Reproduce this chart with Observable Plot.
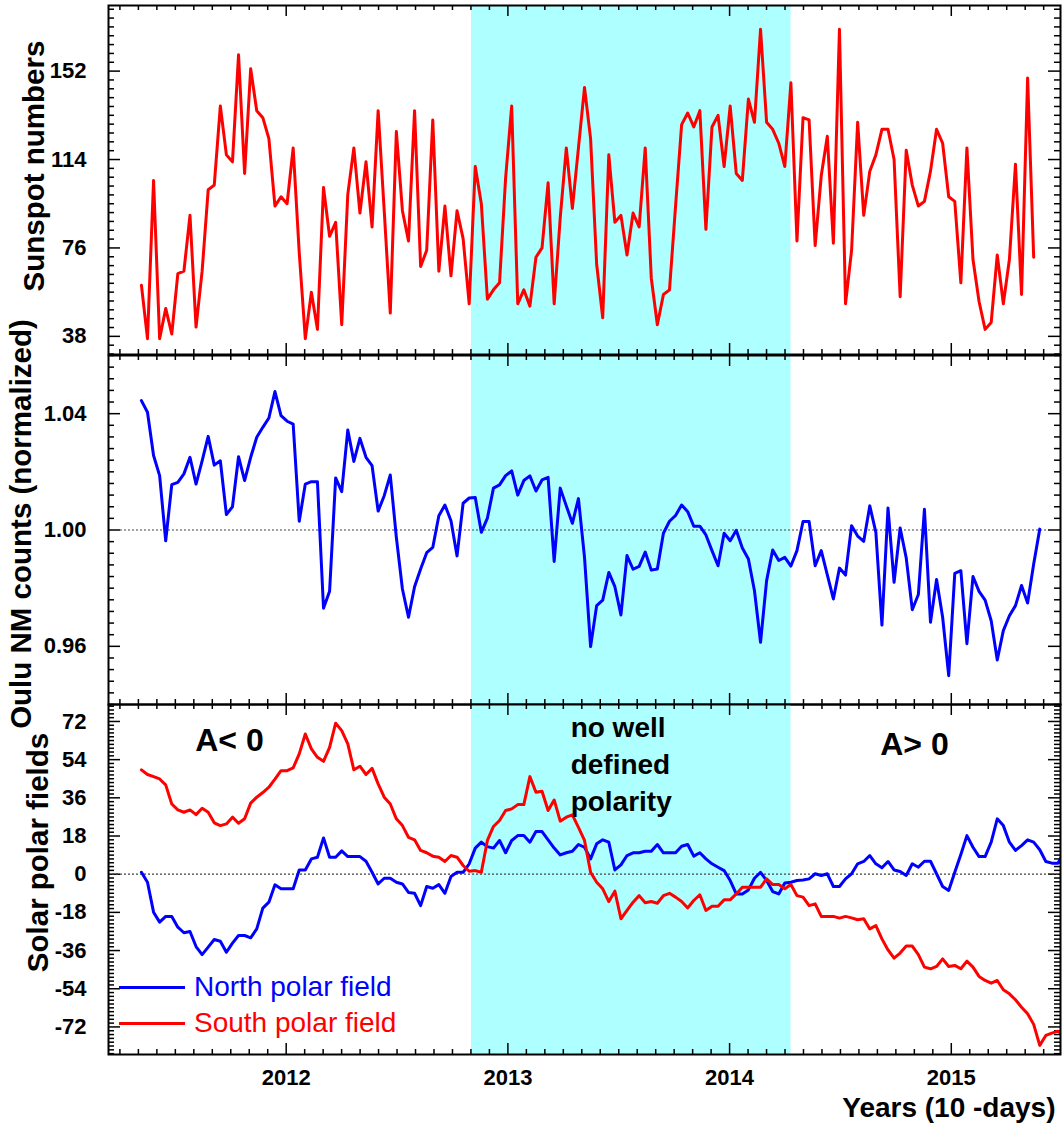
<!DOCTYPE html>
<html><head><meta charset="utf-8">
<script src="https://cdn.jsdelivr.net/npm/d3@7"></script>
<script src="https://cdn.jsdelivr.net/npm/@observablehq/plot@0.6"></script>
<style>
body{margin:0;background:#fff;font-family:"Liberation Sans",Arial,sans-serif;}
#wrap{position:relative;width:1063px;height:1129px;overflow:hidden;background:#fff;}
#wrap svg{position:absolute;left:0;overflow:visible;}
.leg{position:absolute;left:119px;height:32px;display:flex;align-items:center;font-size:28px;white-space:nowrap;}
.leg .sw{display:inline-block;width:66px;height:0;border-top:3px solid currentColor;margin-right:9px;}
</style></head><body><div id="wrap"></div>
<script>
// ---- data (10-day samples) ----
const startYear = 2011.347;           // first sample (decimal year)
const stepYears = 10 / 365.25;        // 10-day cadence

const sunspot = [60,37,105,37,50,39,65,66,90,42,66,101,103,137,116,113,159,108,153,135,132,123,94,98,95,119,74,37,57,41,102,81,87,43,99,119,91,113,85,135,92,48,126,92,79,135,68,75,131,66,94,64,92,80,52,111,
95,54,58,61,106,137,52,58,51,72,76,104,52,89,119,93,119,145,123,69,46,116,87,90,73,91,85,119,63,43,56,58,94,129,134,128,135,84,128,133,111,137,108,105,140,130,170,130,127,121,111,147,79,
132,131,77,107,124,78,170,52,75,130,90,109,116,127,127,114,55,118,103,94,96,109,127,121,98,96,61,119,71,53,41,44,73,52,71,112,56,149,72];

const oulu = [1.0445,1.0405,1.0256,1.0187,0.9963,1.0156,1.0164,1.0193,1.0250,1.0158,1.0238,1.0322,1.0223,1.0238,1.0053,1.0080,1.0252,1.0170,1.0250,1.0319,1.0353,1.0385,1.0476,1.0393,1.0374,1.0364,1.0030,1.0158,1.0166,1.0166,0.9731,0.9789,1.0179,1.0132,1.0344,1.0236,1.0315,1.0250,1.0221,1.0065,1.0118,1.0189,0.9975,0.9797,0.9700,0.9805,0.9866,0.9922,0.9940,1.0049,1.0086,1.0032,0.9911,1.0092,1.0110,1.0112,
0.9992,1.0041,1.0144,1.0155,1.0187,1.0203,1.0120,1.0170,1.0186,1.0134,1.0172,1.0181,0.9892,1.0144,1.0083,1.0023,1.0108,0.9906,0.9599,0.9740,0.9759,0.9854,0.9805,0.9708,0.9912,0.9865,0.9875,0.9924,0.9862,0.9866,0.9989,1.0030,1.0050,1.0086,1.0063,1.0013,1.0013,0.9983,0.9929,0.9877,0.9989,0.9963,0.9999,0.9938,0.9900,0.9791,0.9614,0.9826,0.9931,0.9895,0.9906,0.9876,0.9929,
1.0029,1.0029,0.9877,0.9929,0.9846,0.9763,0.9869,0.9845,1.0015,0.9979,0.9961,1.0083,0.9992,0.9673,1.0076,0.9820,1.0007,0.9904,0.9726,0.9778,1.0071,0.9683,0.9830,0.9700,0.9499,0.9851,0.9860,0.9609,0.9840,0.9789,0.9759,0.9688,0.9553,0.9654,0.9705,0.9740,0.9809,0.9749,0.9883,1.0003];

const northField = [0.9,-3.8,-17.9,-22.6,-19.9,-19.9,-25.0,-27.6,-27.0,-34.1,-37.9,-34.4,-30.8,-31.6,-36.8,-32.5,-28.9,-28.9,-30.0,-25.8,-16.0,-13.2,-5.0,-6.9,-6.9,-6.9,2.0,2.0,7.2,8.0,17.1,8.0,8.0,11.0,8.3,8.3,8.3,6.1,0.9,-4.6,-1.9,-1.9,-3.8,-4.6,-8.6,-9.0,-14.8,-5.8,-6.6,-4.9,-9.0,-1.1,0.9,0.9,4.9,12.3,
15.1,13.0,12.3,15.9,10.1,15.9,18.2,18.2,15.1,20.1,20.1,16.2,12.3,9.1,10.1,10.8,14.0,12.7,7.2,14.3,16.2,15.1,2.0,4.4,8.8,10.1,10.1,10.8,10.8,14.0,10.1,10.1,10.1,13.2,14.0,8.5,10.1,7.2,4.9,3.3,1.7,-3.0,-9.3,-9.3,-7.4,-1.9,0.9,-3.0,-8.2,-9.3,-4.2,-3.8,-3.0,
-2.7,-2.2,0.2,-0.6,0.2,-5.8,-5.8,-2.2,0.2,4.9,6.0,8.8,4.9,3.0,6.0,2.0,1.3,-0.6,4.9,3.3,6.1,6.1,0.2,-5.8,-7.7,0.9,9.3,18.2,12.7,8.3,8.3,15.1,26.1,22.9,15.1,11.2,13.5,16.2,15.1,11.5,6.0,5.2,5.2,10.4];

const southField = [49.2,47.0,46.0,44.9,42.1,33.1,30.3,29.2,30.3,28.1,31.1,29.2,24.2,22.9,23.7,26.9,24.0,26.1,33.5,36.3,38.5,41.0,44.8,48.8,48.8,50.1,56.7,66.1,59.1,55.1,53.2,59.8,71.2,67.7,61.4,49.2,50.9,47.0,49.9,42.6,36.3,33.1,26.1,22.9,17.4,16.2,11.2,10.1,8.5,8.0,6.0,8.8,8.0,4.1,1.4,1.7,
0.9,15.9,22.5,25.3,30.0,30.8,32.8,32.8,46.0,38.6,39.1,30.0,35.0,25.0,26.9,28.0,22.1,15.9,0.9,-3.8,-6.9,-12.9,-8.0,-21.0,-17.1,-13.2,-10.1,-13.5,-12.9,-13.7,-10.1,-9.0,-10.8,-12.9,-15.9,-12.4,-9.7,-17.1,-15.1,-15.1,-12.1,-12.1,-9.3,-6.1,-6.1,-6.1,-6.1,-2.2,-4.9,-4.9,-6.9,-4.9,-10.1,
-10.8,-14.8,-14.0,-19.9,-19.9,-19.9,-20.7,-19.9,-20.6,-21.5,-21.0,-25.8,-24.2,-30.5,-35.7,-39.6,-37.2,-33.9,-33.9,-37.9,-43.8,-44.6,-43.5,-39.9,-43.5,-43.0,-44.6,-41.0,-43.8,-48.2,-50.1,-51.4,-50.1,-54.5,-56.4,-59.2,-62.7,-65.8,-70.8,-80.7,-76.0,-74.9,-74.0,-76.0];

// ---- ticks, labels, period ----
const yearTicks = [2012, 2013, 2014, 2015];
const sunTicks = [38, 76, 114, 152];
const nmTicks = [0.96, 1.00, 1.04];
const polarTicks = [-72, -54, -36, -18, 0, 18, 36, 54, 72];
const noPolarityPeriod = [2012.836, 2014.277];
const xDomain = [2011.1985, 2015.4926];
const annotations = [
  {t: 2011.744, v: 63, text: "A< 0"},
  {t: 2014.834, v: 61, text: "A> 0"}
];
const polarityNote = [{t: 2013.283, v: 77, text: "no well\ndefined\npolarity"}];

const rows = arr => arr.map((v, i) => ({t: startYear + i * stepYears, v}));

const W = 952;
const FONT = "'Liberation Sans', Arial, sans-serif";

function frameMarks(H, yMinor, yMajor) {
  const minorX = d3.range(Math.ceil(xDomain[0] * 12), Math.floor(xDomain[1] * 12) + 1)
    .filter(m => m % 12 !== 0).map(m => m / 12);
  const tk = {stroke: "black", strokeWidth: 1.5};
  return [
    Plot.tickX(minorX, {x: d => d, insetTop: H - 5, ...tk}),
    Plot.tickX(minorX, {x: d => d, insetBottom: H - 5, ...tk}),
    Plot.tickX(yearTicks, {x: d => d, insetTop: H - 11, ...tk}),
    Plot.tickX(yearTicks, {x: d => d, insetBottom: H - 11, ...tk}),
    Plot.tickY(yMinor, {y: d => d, insetRight: W - 6, ...tk}),
    Plot.tickY(yMinor, {y: d => d, insetLeft: W - 6, ...tk}),
    Plot.tickY(yMajor, {y: d => d, insetRight: W - 12, ...tk}),
    Plot.tickY(yMajor, {y: d => d, insetLeft: W - 12, ...tk})
  ];
}
const band = () => Plot.rect([noPolarityPeriod], {x1: d => d[0], x2: d => d[1], fill: "#aeffff"});
const yAxis = (ticks, fmt) => Plot.axisY(ticks, {tickSize: 0, tickPadding: 22, fontSize: 22, fontWeight: "bold", label: null, tickFormat: fmt});
const yTitle = (s, dx, dy) => Plot.text([s], {frameAnchor: "left", rotate: -90, dx, dy, fontSize: 29.5, fontWeight: "bold", textAnchor: "middle", lineAnchor: "middle"});
const base = {width: 1063, marginLeft: 108, marginRight: 3, x: {domain: xDomain, axis: null},
  style: {background: "transparent", overflow: "visible", fontFamily: FONT, color: "black"}};
const LW = 3;

const wrap = document.getElementById("wrap");

// Panel 1: sunspot numbers
const H1 = 349;
const sunMinor = d3.range(8, 48).filter(k => k % 10 !== 0).map(k => k * 3.8);
const p1 = Plot.plot({...base, height: 360, marginTop: 5, marginBottom: 6,
  y: {domain: [30.2, 180.2]},
  marks: [
    band(),
    ...frameMarks(H1, sunMinor, sunTicks),
    Plot.line(rows(sunspot), {x: "t", y: "v", stroke: "#ff0000", strokeWidth: LW, clip: true}),
    yAxis(sunTicks, d => String(d)),
    yTitle("Sunspot numbers", -74, -14),
    Plot.frame({stroke: "black", strokeWidth: 2})
  ]});
p1.style.top = "0px";
wrap.appendChild(p1);

// Panel 2: Oulu NM counts
const H2 = 349;
const nmMinor = d3.range(235, 266).filter(k => k % 10 !== 0).map(k => k * 0.004);
const p2 = Plot.plot({...base, height: 360, marginTop: 6, marginBottom: 5,
  y: {domain: [0.94, 1.06]},
  marks: [
    band(),
    ...frameMarks(H2, nmMinor, nmTicks),
    Plot.ruleY([1.0], {stroke: "#444", strokeWidth: 1.2, strokeDasharray: "2,2"}),
    Plot.line(rows(oulu), {x: "t", y: "v", stroke: "#0000ff", strokeWidth: LW, clip: true}),
    yAxis(nmTicks, d3.format(".2f")),
    yTitle("Oulu NM counts (normalized)", -87, -6),
    Plot.frame({stroke: "black", strokeWidth: 2})
  ]});
p2.style.top = "349px";
wrap.appendChild(p2);

// Panel 3: solar polar fields
const H3 = 350;
const polMinor = d3.range(-47, 45).filter(k => k % 10 !== 0).map(k => k * 1.8);
const p3 = Plot.plot({...base, height: 431, marginTop: 6, marginBottom: 75,
  y: {domain: [-85, 80]},
  marks: [
    band(),
    ...frameMarks(H3, polMinor, polarTicks),
    Plot.ruleY([0], {stroke: "#444", strokeWidth: 1.2, strokeDasharray: "2,2"}),
    Plot.line(rows(northField), {x: "t", y: "v", stroke: "#0000ff", strokeWidth: LW, clip: true}),
    Plot.line(rows(southField), {x: "t", y: "v", stroke: "#ff0000", strokeWidth: LW, clip: true}),
    Plot.text(annotations, {x: "t", y: "v", text: "text", fontSize: 32, fontWeight: "bold", textAnchor: "middle", lineAnchor: "middle"}),
    Plot.text(polarityNote, {x: "t", y: "v", text: "text", fontSize: 28, fontWeight: "bold", textAnchor: "start", lineAnchor: "top", lineHeight: 1.32}),
    yAxis(polarTicks, d => String(d)),
    Plot.axisX(yearTicks, {tickSize: 0, tickPadding: 15, fontSize: 22, fontWeight: "bold", label: null, tickFormat: d => String(d)}),
    yTitle("Solar polar fields", -70, -27),
    Plot.text(["Years (10 -days)"], {frameAnchor: "bottom-right", dx: -5, dy: 62, textAnchor: "end", lineAnchor: "bottom", fontSize: 28, fontWeight: "bold"}),
    Plot.frame({stroke: "black", strokeWidth: 2})
  ]});
p3.style.top = "698px";
wrap.appendChild(p3);

// Legend
const legend = [
  {label: "North polar field", color: "#0000ff", top: 971},
  {label: "South polar field", color: "#ff0000", top: 1007}
];
for (const l of legend) {
  const d = document.createElement("div");
  d.className = "leg";
  d.style.top = l.top + "px";
  d.style.color = l.color;
  d.innerHTML = `<span class="sw"></span>${l.label}`;
  wrap.appendChild(d);
}
</script></body></html>
